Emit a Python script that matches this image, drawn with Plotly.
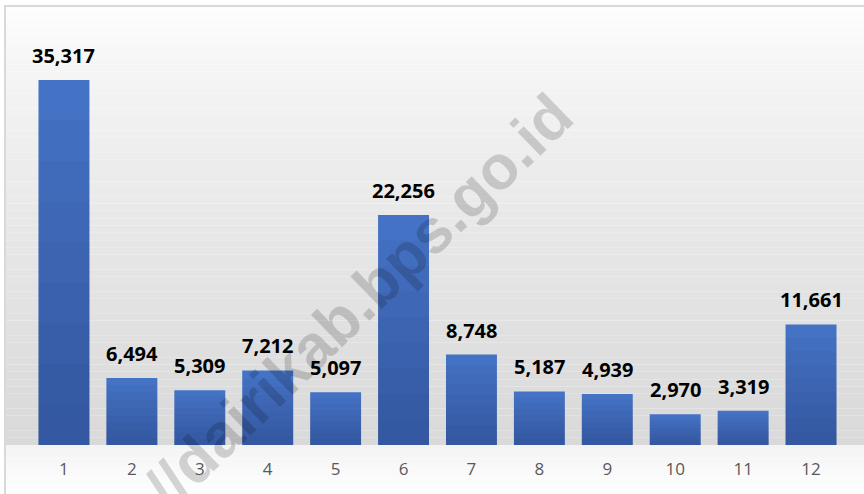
import plotly.graph_objects as go

# ---------------------------------------------------------------------------
# Data
# ---------------------------------------------------------------------------
CATEGORIES = ["1", "2", "3", "4", "5", "6", "7", "8", "9", "10", "11", "12"]
VALUES = [35317, 6494, 5309, 7212, 5097, 22256, 8748, 5187, 4939, 2970, 3319, 11661]
WATERMARK = "https://dairikab.bps.go.id"

# ---------------------------------------------------------------------------
# Geometry / style
# ---------------------------------------------------------------------------
W, H = 864, 494
ML, MR, MT, MB = 30, 19, 20, 49
PW, PH = W - ML - MR, H - MT - MB
Y_MAX = 41120

BAR_COLOR = "#4472c4"
SHADE_LAYERS = 8          # darkening overlays -> top-to-bottom bar gradient
LABEL_FONT = dict(family="Open Sans", size=20, color="#000000", weight="bold")
TICK_FONT = dict(family="Open Sans", size=17, color="#595959")


def px_to_paper_x(px):
    return (px - ML) / PW


def px_to_paper_y(py):
    return (H - MB - py) / PH


def gray(v):
    v = int(round(v))
    return f"rgb({v},{v},{v})"


# background: vertical gradient inside the chart frame
shapes = []
x0, x1 = px_to_paper_x(5), px_to_paper_x(W + 10)
top_px, base_px = 6, H - MB
n_strips = 60
for i in range(n_strips):
    a = top_px + (base_px - top_px) * i / n_strips
    b = top_px + (base_px - top_px) * (i + 1) / n_strips
    t = (i + 0.5) / n_strips
    shapes.append(dict(
        type="rect", xref="paper", yref="paper", layer="below",
        x0=x0, x1=x1, y0=px_to_paper_y(b), y1=px_to_paper_y(a),
        fillcolor=gray(255 - 38 * t ** 0.7), line=dict(width=0),
    ))
# below the baseline: light fade back to white
n_low = 12
for i in range(n_low):
    a = base_px + (H + 5 - base_px) * i / n_low
    b = base_px + (H + 5 - base_px) * (i + 1) / n_low
    t = (i + 0.5) / n_low
    shapes.append(dict(
        type="rect", xref="paper", yref="paper", layer="below",
        x0=x0, x1=x1, y0=px_to_paper_y(b), y1=px_to_paper_y(a),
        fillcolor=gray(244 + 11 * t), line=dict(width=0),
    ))
# outer frame
shapes.append(dict(
    type="rect", xref="paper", yref="paper", layer="below",
    x0=x0, x1=x1, y0=px_to_paper_y(H + 10), y1=px_to_paper_y(top_px),
    fillcolor="rgba(0,0,0,0)", line=dict(color="#d9d9d9", width=2),
))

fig = go.Figure()
fig.add_trace(go.Bar(
    x=CATEGORIES,
    y=VALUES,
    marker=dict(color=BAR_COLOR, line=dict(width=0)),
    hoverinfo="x+y",
))
# translucent overlays, each a bit shorter, so bars darken toward the base
for k in range(1, SHADE_LAYERS + 1):
    frac = 1 - k / (SHADE_LAYERS + 1)
    fig.add_trace(go.Bar(
        x=CATEGORIES,
        y=[v * frac for v in VALUES],
        marker=dict(color="rgba(0,0,20,0.026)", line=dict(width=0)),
        hoverinfo="skip",
    ))

# value labels (x given as category index)
annotations = [
    dict(x=i, y=v, xref="x", yref="y", text=f"{v:,}", showarrow=False,
         xanchor="center", yanchor="bottom", yshift=9, font=LABEL_FONT)
    for i, v in enumerate(VALUES)
]
annotations.append(dict(
    x=px_to_paper_x(296), y=px_to_paper_y(361), xref="paper", yref="paper",
    xanchor="center", yanchor="middle",
    text=WATERMARK, showarrow=False, textangle=-44,
    font=dict(family="Liberation Sans", size=62, color="rgba(0,0,0,0.16)",
              weight="bold"),
))

fig.update_layout(
    width=W, height=H,
    margin=dict(l=ML, r=MR, t=MT, b=MB),
    paper_bgcolor="white",
    plot_bgcolor="rgba(0,0,0,0)",
    barmode="overlay",
    bargap=0.25,
    showlegend=False,
    shapes=shapes,
    annotations=annotations,
    xaxis=dict(range=[-0.5, 11.5], showgrid=False, zeroline=False,
               showline=False, ticks="", tickfont=TICK_FONT,
               ticklabelstandoff=12),
    yaxis=dict(range=[0, Y_MAX], visible=False, showgrid=False),
)

fig.write_html("out.html", config={"displayModeBar": False},
               post_script="document.body.style.margin='0';")
